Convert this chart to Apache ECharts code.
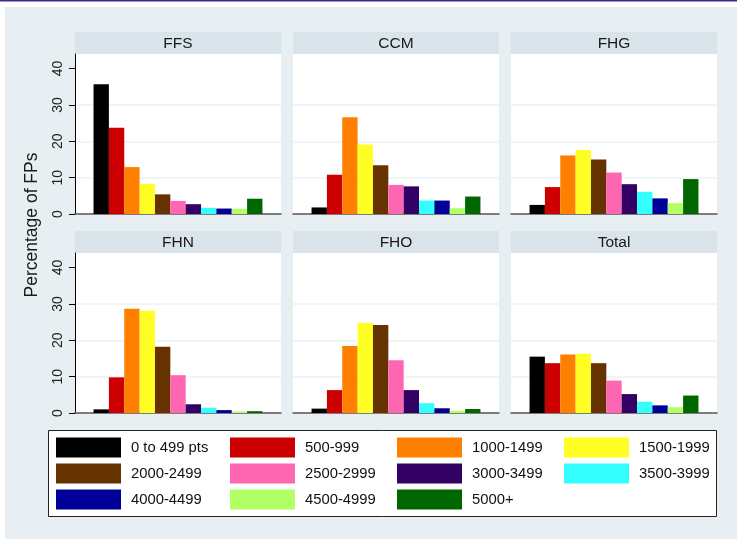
<!DOCTYPE html>
<html>
<head>
<meta charset="utf-8">
<script src="https://cdn.jsdelivr.net/npm/echarts@6/dist/echarts.min.js"></script>
<style>
html,body{margin:0;padding:0;background:#ffffff;}
#chart{width:737px;height:539px;}
</style>
</head>
<body>
<div id="chart"></div>
<script>
// ---- data ----
var panels = ['FFS', 'CCM', 'FHG', 'FHN', 'FHO', 'Total'];
var bins = ['0 to 499 pts', '500-999', '1000-1499', '1500-1999', '2000-2499', '2500-2999',
            '3000-3499', '3500-3999', '4000-4499', '4500-4999', '5000+'];
var ffs   = [35.7, 23.7, 12.9, 8.3, 5.4, 3.6, 2.7, 1.7, 1.5, 1.4, 4.2];
var ccm   = [1.8, 10.8, 26.6, 19.1, 13.4, 8.0, 7.6, 3.7, 3.7, 1.6, 4.8];
var fhg   = [2.5, 7.4, 16.1, 17.6, 15.0, 11.4, 8.2, 6.1, 4.3, 3.0, 9.6];
var fhn   = [1.0, 9.8, 28.7, 28.1, 18.2, 10.4, 2.4, 1.4, 0.8, 0.4, 0.5];
var fho   = [1.2, 6.3, 18.4, 24.8, 24.2, 14.5, 6.3, 2.7, 1.3, 0.6, 1.1];
var total = [15.5, 13.7, 16.1, 16.3, 13.7, 8.9, 5.2, 3.1, 2.1, 1.6, 4.8];
var yTicks = [0, 10, 20, 30, 40];
var yTitle = 'Percentage of FPs';

// ---- styles ----
var colors = ['#000000', '#cc0000', '#ff7f00', '#ffff26', '#663300', '#ff66b2',
              '#330066', '#33ffff', '#000099', '#b2ff66', '#006600'];
var panelValues = [ffs, ccm, fhg, fhn, fho, total];
var FONT = '"Liberation Sans", Arial, sans-serif';

var colX = [75, 293, 511];
var rowPlotTop = [54, 253];
var plotW = 206, plotH = 160, headH = 22;

var chart = echarts.init(document.getElementById('chart'), null, {renderer: 'canvas'});

var grids = [], xAxes = [], yAxes = [], series = [], graphics = [];

graphics.push({type: 'rect', z: -10, shape: {x: 0, y: 0, width: 737, height: 1.5}, style: {fill: '#3d2b8a'}});
graphics.push({type: 'rect', z: -10, shape: {x: 5, y: 7, width: 732, height: 532}, style: {fill: '#e8eff2'}});

panels.forEach(function (name, i) {
  var c = i % 3, r = Math.floor(i / 3);
  var left = colX[c], top = rowPlotTop[r];
  grids.push({left: left, top: top, width: plotW, height: plotH, show: true,
              backgroundColor: '#ffffff', borderWidth: 0});
  graphics.push({type: 'rect', z: -5, shape: {x: left, y: top - headH, width: plotW, height: headH},
                 style: {fill: '#d9e5eb'}});
  graphics.push({type: 'text', z: 5, x: left + plotW / 2, y: top - headH / 2 + 0.5,
                 style: {text: name, fill: '#1a1a1a', font: '15.5px ' + FONT,
                         align: 'center', verticalAlign: 'middle'}});
  xAxes.push({type: 'category', gridIndex: i, data: [name],
              axisLine: {show: true, lineStyle: {color: '#555555', width: 1.5}},
              axisTick: {show: false}, axisLabel: {show: false}, splitLine: {show: false}});
  var first = (c === 0);
  yAxes.push({type: 'value', gridIndex: i, min: 0, max: 44, interval: 10,
              axisLine: {show: first, lineStyle: {color: '#000000', width: 1}},
              axisTick: {show: first, length: 6, customValues: yTicks, lineStyle: {color: '#000000'}},
              axisLabel: {show: first, rotate: 90, margin: 10, customValues: yTicks,
                          color: '#222222', fontSize: 14, fontFamily: FONT},
              splitLine: {show: true, showMaxLine: false, lineStyle: {color: '#ecf2f4', width: 1.5}}});
  bins.forEach(function (b, k) {
    series.push({type: 'bar', name: b, xAxisIndex: i, yAxisIndex: i,
                 data: [panelValues[i][k]], barGap: '0%', barCategoryGap: '18%',
                 itemStyle: {color: colors[k]}, silent: true, animation: false});
  });
});

// legend box
graphics.push({type: 'rect', z: -4, shape: {x: 48.5, y: 430.5, width: 668, height: 86},
               style: {fill: '#ffffff', stroke: '#222222', lineWidth: 1}});
// y title
graphics.push({type: 'text', x: 32, y: 225, rotation: Math.PI / 2,
               style: {text: yTitle, fill: '#1a1a1a', font: '17.5px ' + FONT,
                       align: 'center', verticalAlign: 'middle'}});

var legendLeft = [56, 230, 397, 564];
var legends = legendLeft.map(function (lx, j) {
  var d = [];
  for (var k = j; k < bins.length; k += 4) d.push(bins[k]);
  return {orient: 'vertical', left: lx, top: 437.5, padding: 0, itemWidth: 65, itemHeight: 20,
          itemGap: 6, icon: 'rect', data: d, selectedMode: false,
          textStyle: {color: '#111111', fontSize: 14.8, fontFamily: FONT,
                      padding: [0, 0, 0, 5]}};
});

chart.setOption({
  animation: false,
  backgroundColor: '#ffffff',
  grid: grids,
  xAxis: xAxes,
  yAxis: yAxes,
  series: series,
  legend: legends,
  graphic: graphics
});
</script>
</body>
</html>
